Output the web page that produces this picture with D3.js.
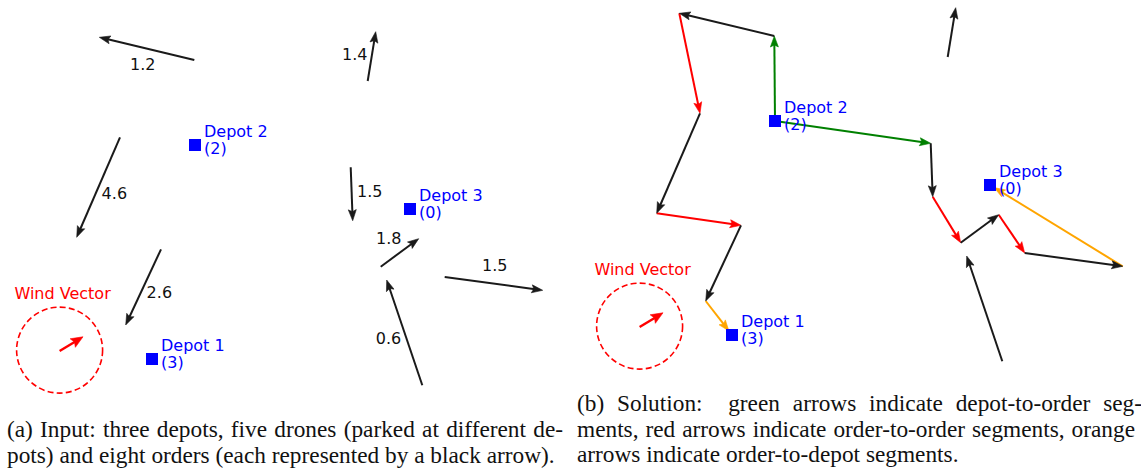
<!DOCTYPE html>
<html>
<head>
<meta charset="utf-8">
<script src="https://cdn.jsdelivr.net/npm/d3@7"></script>
<style>
  body { margin: 0; background: #fff; }
  svg { display: block; }
</style>
</head>
<body>
<svg id="fig" width="1141" height="470"></svg>
<script>
// ---- Depots: name, drones parked there, location (map units) ----
const depotNames  = ["Depot 1", "Depot 2", "Depot 3"];
const depotDrones = [3, 2, 0];
const depotX = [15.2, 19.5, 41.0];
const depotY = [4.1, 25.5, 19.1];

// ---- Orders: pickup -> drop-off, labelled by payload weight ----
const orderWeights = ["1.2", "1.4", "4.6", "2.6", "1.5", "1.8", "1.5", "0.6"];
const orderFromX = [19.43, 36.77, 12.00, 16.10, 35.07, 38.07, 44.47, 42.23];
const orderFromY = [34.00, 31.90, 26.27, 15.07, 23.27, 13.33, 12.30, 1.47];
const orderToX   = [9.93, 37.57, 7.67, 12.57, 35.27, 41.87, 54.27, 38.67];
const orderToY   = [36.27, 36.83, 16.27, 7.50, 17.93, 16.13, 10.97, 12.00];

// ---- Wind ----
const windCenter = [5.96, 4.99];
const windRadius = 4.3;
const windVector = [2.34, 1.43];

// ---- Drone routes: start depot, orders in sequence, return depot ----
const routeStartDepot = [1, 1];
const routeOrders     = [[0, 2, 3], [4, 5, 6]];
const routeEndDepot   = [0, 2];

// ---- Captions ----
const captionA = [
  "(a) Input: three depots, five drones (parked at different de-",
  "pots) and eight orders (each represented by a black arrow)."
];
const captionB = [
  "(b) Solution:\u00a0 green arrows indicate depot-to-order seg-",
  "ments, red arrows indicate order-to-order segments, orange",
  "arrows indicate order-to-depot segments."
];

// ---- Layout ----
const svg = d3.select("#fig");
const COLORS = { order: "#1a1a1a", depot: "#0000ff", toOrder: "#008000",
                 between: "#ff0000", toDepot: "#ffa500", wind: "#ff0000" };
const labelFont = "'DejaVu Sans', sans-serif";
const captionFont = "'Liberation Serif', 'DejaVu Serif', serif";
// label nudges (px) from each order's midpoint
const labelNudge = [[-4, 21], [-17, 4], [16, 12], [16, 11], [18, 3], [-11, -9], [1, -13], [-16, 11]];

const panels = [
  { x: d3.scaleLinear().domain([0, 56]).range([0, 560]),
    y: d3.scaleLinear().domain([0, 40]).range([400, 0]), solution: false },
  { x: d3.scaleLinear().domain([0, 56]).range([580, 1140]),
    y: d3.scaleLinear().domain([0, 40]).range([376, -24]), solution: true }
];

function arrow(g, x1, y1, x2, y2, color, o = {}) {
  const lw = o.width || 2, hl = o.headLen || 11, hw = o.headW || 8, cut = o.shorten || 0;
  const dx = x2 - x1, dy = y2 - y1, L = Math.hypot(dx, dy);
  const ux = dx / L, uy = dy / L, px = -uy, py = ux;
  const tx = x2 - ux * cut, ty = y2 - uy * cut;
  const bx = tx - ux * hl, by = ty - uy * hl;
  g.append("line")
    .attr("x1", x1).attr("y1", y1)
    .attr("x2", tx - ux * hl * 0.7).attr("y2", ty - uy * hl * 0.7)
    .attr("stroke", color).attr("stroke-width", lw);
  g.append("path")
    .attr("d", `M${tx},${ty}L${bx + px * hw / 2},${by + py * hw / 2}L${bx + ux * 2},${by + uy * 2}L${bx - px * hw / 2},${by - py * hw / 2}Z`)
    .attr("fill", color).attr("stroke", color).attr("stroke-width", 0.6)
    .attr("stroke-linejoin", "miter");
}

panels.forEach(p => {
  const g = svg.append("g");
  const X = p.x, Y = p.y;

  // wind compass
  const wcx = X(windCenter[0]), wcy = Y(windCenter[1]);
  g.append("circle").attr("cx", wcx).attr("cy", wcy)
    .attr("r", X(windRadius) - X(0))
    .attr("fill", "none").attr("stroke", COLORS.wind)
    .attr("stroke-width", 1.6).attr("stroke-dasharray", "6,3.2");
  arrow(g, wcx, wcy + 1, X(windCenter[0] + windVector[0]), Y(windCenter[1] + windVector[1]) + 1,
        COLORS.wind, { width: 2.4, headLen: 12, headW: 10 });
  g.append("text").attr("x", wcx + 3).attr("y", wcy - 51)
    .attr("text-anchor", "middle").attr("fill", COLORS.wind)
    .attr("font-family", labelFont).attr("font-size", 16).text("Wind Vector");

  // routes (solution panel only)
  if (p.solution) {
    routeOrders.forEach((seq, r) => {
      const d0 = routeStartDepot[r], d1 = routeEndDepot[r];
      arrow(g, X(depotX[d0]), Y(depotY[d0]), X(orderFromX[seq[0]]), Y(orderFromY[seq[0]]), COLORS.toOrder);
      for (let k = 1; k < seq.length; k++) {
        const a = seq[k - 1], b = seq[k];
        arrow(g, X(orderToX[a]), Y(orderToY[a]), X(orderFromX[b]), Y(orderFromY[b]), COLORS.between);
      }
      const last = seq[seq.length - 1];
      arrow(g, X(orderToX[last]), Y(orderToY[last]), X(depotX[d1]), Y(depotY[d1]), COLORS.toDepot, { shorten: 5 });
    });
  }

  // orders
  orderWeights.forEach((w, i) => {
    const x1 = X(orderFromX[i]), y1 = Y(orderFromY[i]), x2 = X(orderToX[i]), y2 = Y(orderToY[i]);
    arrow(g, x1, y1, x2, y2, COLORS.order);
    if (!p.solution) {
      g.append("text")
        .attr("x", (x1 + x2) / 2 + labelNudge[i][0])
        .attr("y", (y1 + y2) / 2 + labelNudge[i][1])
        .attr("text-anchor", "middle").attr("fill", "#111")
        .attr("font-family", labelFont).attr("font-size", 16).text(w);
    }
  });

  // depots
  depotNames.forEach((n, i) => {
    const cx = X(depotX[i]), cy = Y(depotY[i]);
    g.append("rect").attr("x", cx - 6).attr("y", cy - 6).attr("width", 12).attr("height", 12)
      .attr("fill", COLORS.depot);
    const t = g.append("text").attr("fill", COLORS.depot)
      .attr("font-family", labelFont).attr("font-size", 16);
    t.append("tspan").attr("x", cx + 9).attr("y", cy - 8.5).text(n);
    t.append("tspan").attr("x", cx + 9).attr("y", cy + 8.5).text(`(${depotDrones[i]})`);
  });
});

// Caption size: the unjustified closing line of (a) runs 548px wide.
const probe = svg.append("text").attr("font-family", captionFont).attr("font-size", 20)
  .text(captionA[1]);
const capSize = 20 * 548 / probe.node().getComputedTextLength();
probe.remove();

// captions; full lines are justified by widening inter-word spaces
function caption(lines, x0, width, y0, lh) {
  lines.forEach((s, i) => {
    const t = svg.append("text").attr("x", x0).attr("y", y0 + i * lh)
      .attr("font-family", captionFont).attr("font-size", capSize).attr("fill", "#111")
      .text(s);
    if (i < lines.length - 1) {
      const nat = t.node().getComputedTextLength();
      const spaces = (s.match(/ /g) || []).length;
      if (spaces) t.attr("word-spacing", (width - nat) / spaces);
    }
  });
}
caption(captionA, 7, 556, 437, 25.5);
caption(captionB, 577, 558, 411, 25.5);
</script>
</body>
</html>
